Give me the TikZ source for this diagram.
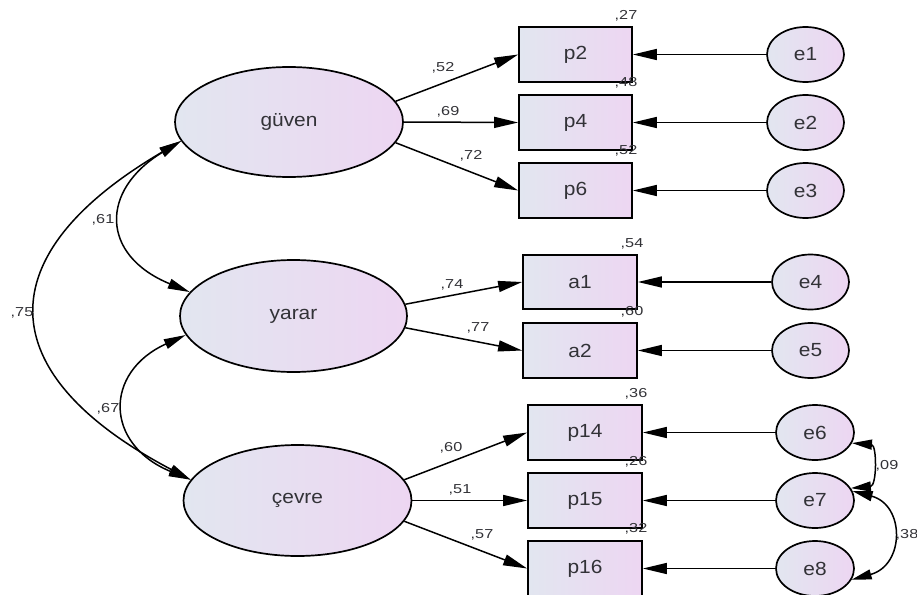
\documentclass[tikz,border=0pt]{standalone}
\usepackage{fontspec}
\setmainfont{Liberation Sans}
\newfontfamily\lblfont[FakeStretch=1.1]{Liberation Sans}
\newfontfamily\numfont[FakeStretch=1.25]{Liberation Sans}
\usetikzlibrary{shapes.geometric,arrows.meta}
\definecolor{fillL}{RGB}{226,230,240}
\definecolor{fillR}{RGB}{237,214,242}
\definecolor{txt}{RGB}{50,50,55}
\begin{document}
\begin{tikzpicture}[x=1pt,y=-1pt,
  base/.style={draw=black,line width=1.7pt,left color=fillL,right color=fillR,inner sep=0pt,text=txt,font=\lblfont\fontsize{19}{19}\selectfont},
  latent/.style={base,ellipse},
  obs/.style={base,rectangle},
  err/.style={base,ellipse,minimum width=77pt,minimum height=55pt},
  num/.style={text=txt,font=\numfont\fontsize{13}{13}\selectfont,inner sep=0pt},
  arr/.style={line width=1.5pt,-{Triangle[length=24pt,width=11pt]}},
  dbl/.style={line width=1.5pt,{Triangle[length=22pt,width=10pt]}-{Triangle[length=22pt,width=10pt]}},
  dblsm/.style={line width=1.5pt,{Triangle[length=20pt,width=10pt]}-{Triangle[length=20pt,width=10pt]}}
]
\useasboundingbox (0,0) rectangle (917,594);
% latent
\node[latent,minimum width=228pt,minimum height=110pt] (g) at (289,122) {güven};
\node[latent,minimum width=227pt,minimum height=112pt] (y) at (293.5,316) {yarar};
\node[latent,minimum width=228pt,minimum height=111pt] (c) at (297.5,500.5) {çevre};
% observed
\node[obs,minimum width=113pt,minimum height=55pt] (p2) at (575.5,54.5) {p2};
\node[obs,minimum width=113pt,minimum height=55pt] (p4) at (575.5,122.5) {p4};
\node[obs,minimum width=113pt,minimum height=55pt] (p6) at (575.5,190.5) {p6};
\node[obs,minimum width=114pt,minimum height=54pt] (a1) at (580,282) {a1};
\node[obs,minimum width=114pt,minimum height=55pt] (a2) at (580,350.5) {a2};
\node[obs,minimum width=114pt,minimum height=55pt] (p14) at (585,432.5) {p14};
\node[obs,minimum width=114pt,minimum height=55pt] (p15) at (585,500.5) {p15};
\node[obs,minimum width=114pt,minimum height=55pt] (p16) at (585,568.5) {p16};
% errors
\node[err] (e1) at (805.5,54.5) {e1};
\node[err] (e2) at (805.5,122.5) {e2};
\node[err] (e3) at (805.5,190.5) {e3};
\node[err] (e4) at (810.5,282) {e4};
\node[err] (e5) at (810.5,350.5) {e5};
\node[err,minimum width=78pt] (e6) at (815,432.5) {e6};
\node[err,minimum width=78pt] (e7) at (815,500.5) {e7};
\node[err,minimum width=78pt] (e8) at (815,568.5) {e8};
% loadings
\draw[arr] (g.11) -- (p2.west);
\draw[arr] (g.east) -- (p4.west);
\draw[arr] (g.-11) -- (p6.west);
\draw[arr] (y.6) -- (a1.west);
\draw[arr] (y.-6) -- (a2.west);
\draw[arr] (c.11) -- (p14.west);
\draw[arr] (c.east) -- (p15.west);
\draw[arr] (c.-11) -- (p16.west);
% error paths
\foreach \e/\p in {e1/p2,e2/p4,e3/p6,e4/a1,e5/a2,e6/p14,e7/p15,e8/p16}
  \draw[arr] (\e.west) -- (\p.east);
% covariances
\draw[dbl] (g.190) .. controls (100,190) and (100,255) .. (y.167);
\draw[dbl] (g.190) .. controls (-12,254) and (-12,373) .. (c.169);
\draw[dbl] (y.190) .. controls (104,372) and (104,444) .. (c.169);
\draw[dblsm] (e6.-16) .. controls (877,445) and (877,486) .. (e7.19);
\draw[dblsm] (e7.14) .. controls (905,505) and (905,565) .. (e8.-17);
% loading labels
\node[num] (l1) at (443,68) {,52};
\node[num] (l2) at (448,112) {,69};
\node[num] (l3) at (471,156) {,72};
\node[num] (l4) at (452,285) {,74};
\node[num] (l5) at (478,328) {,77};
\node[num] (l6) at (451,448) {,60};
\node[num] (l7) at (460,490) {,51};
\node[num] (l8) at (482,535) {,57};
% R2 labels
\node[num] (r1) at (626,16) {,27};
\node[num] (r2) at (626,83) {,48};
\node[num] (r3) at (626,151) {,52};
\node[num] (r4) at (632,244) {,54};
\node[num] (r5) at (632,312) {,60};
\node[num] (r6) at (636,394) {,36};
\node[num] (r7) at (636,462) {,26};
\node[num] (r8) at (636,529) {,32};
% covariance labels
\node[num] (c1) at (103,220) {,61};
\node[num] (c2) at (22,313) {,75};
\node[num] (c3) at (108,409) {,67};
\node[num] (c4) at (887,466) {,09};
\node[num] (c5) at (907,535) {,38};
\end{tikzpicture}
\end{document}
